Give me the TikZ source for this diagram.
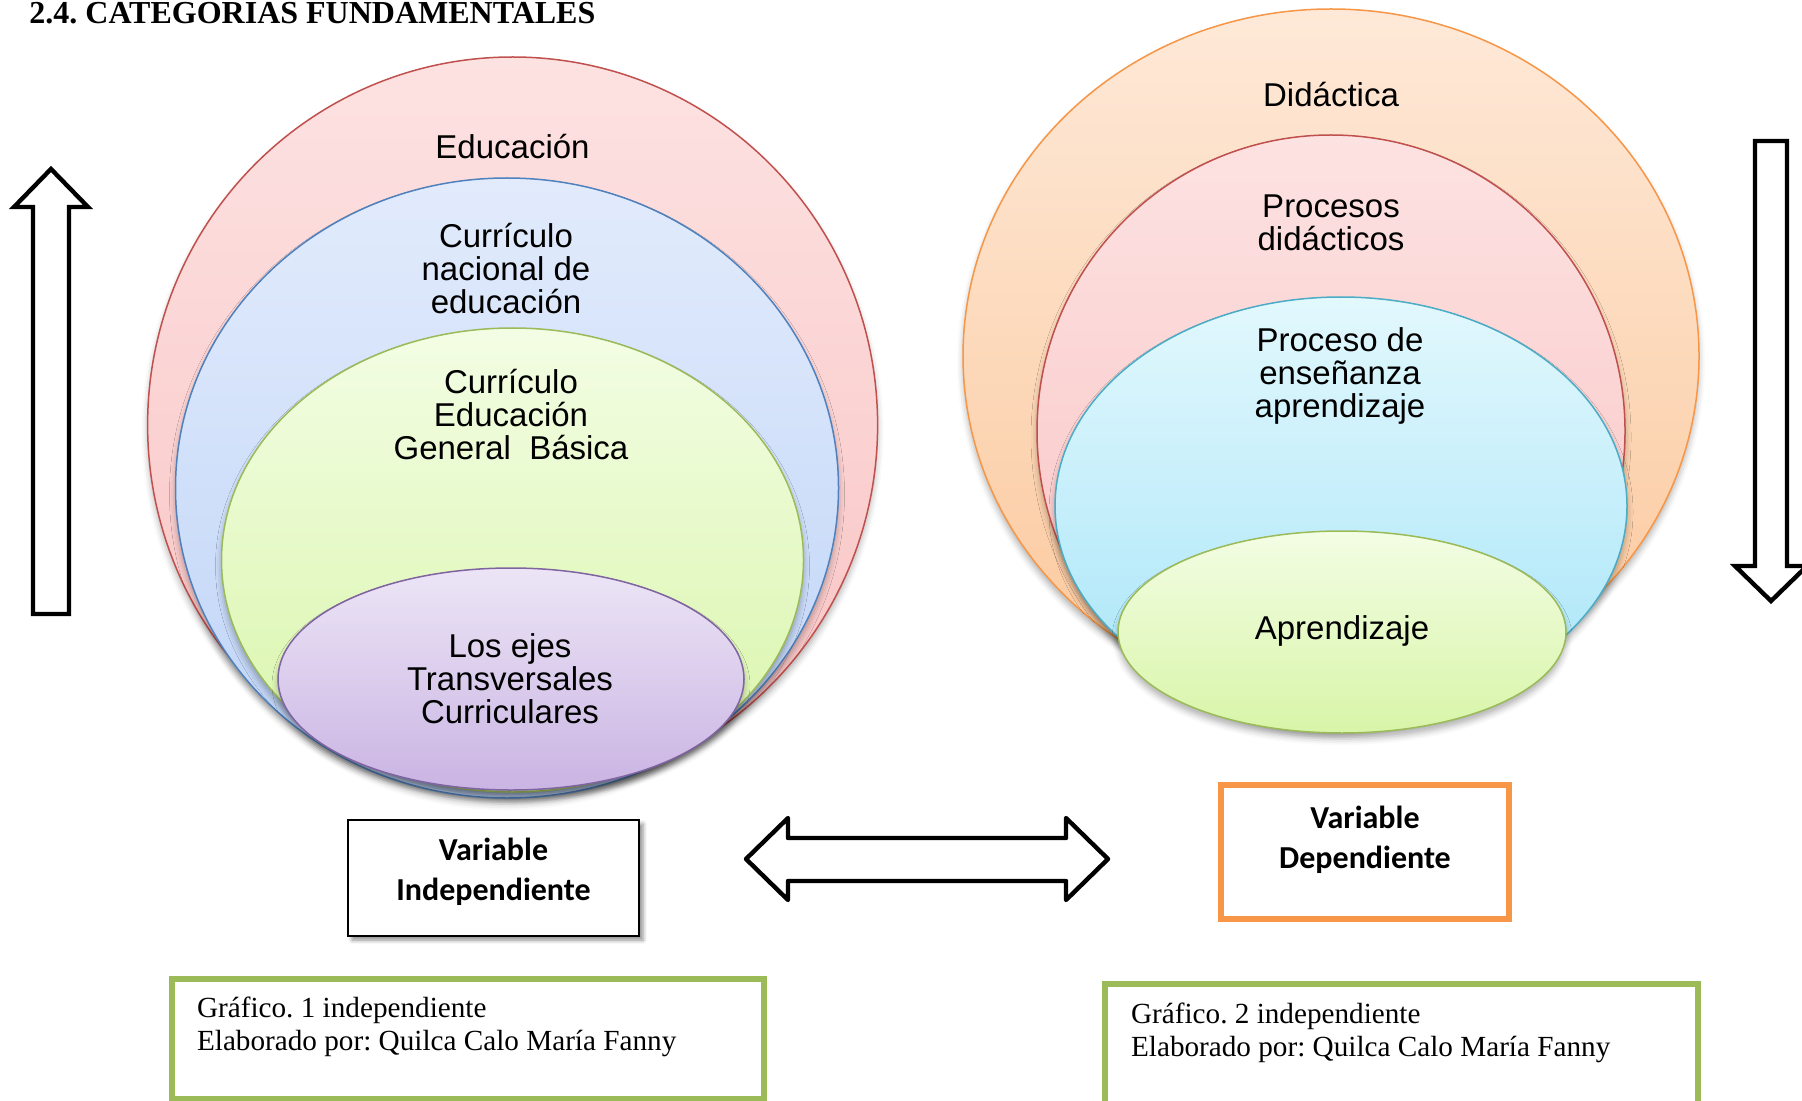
\documentclass[tikz,border=0pt]{standalone}
\usepackage{fontspec}
\setmainfont{Liberation Serif}
\newfontfamily\circleFont{Liberation Sans}
\newfontfamily\boxFont{Carlito}
\usetikzlibrary{positioning,shapes.geometric,shadows.blur}
\frenchspacing
\definecolor{redLine}{RGB}{192,80,77}
\definecolor{redTop}{RGB}{253,226,226}
\definecolor{redBottom}{RGB}{249,194,194}
\definecolor{blueLine}{RGB}{79,129,189}
\definecolor{blueTop}{RGB}{226,235,252}
\definecolor{blueBottom}{RGB}{190,212,247}
\definecolor{greenLine}{RGB}{155,187,89}
\definecolor{greenTop}{RGB}{243,253,228}
\definecolor{greenBottom}{RGB}{216,245,168}
\definecolor{purpleLine}{RGB}{128,100,162}
\definecolor{purpleTop}{RGB}{236,229,246}
\definecolor{purpleBottom}{RGB}{202,180,227}
\definecolor{orangeLine}{RGB}{247,150,70}
\definecolor{orangeTop}{RGB}{254,233,216}
\definecolor{orangeBottom}{RGB}{251,200,156}
\definecolor{cyanLine}{RGB}{75,172,198}
\definecolor{cyanTop}{RGB}{226,248,253}
\definecolor{cyanBottom}{RGB}{168,229,248}
\tikzstyle{pixels} = [x = 0.5pt, y = -0.5pt]
\tikzstyle{categoryStyle} = [ellipse, inner sep = 0, line width = .75pt, blur shadow = {shadow xshift = 0pt, shadow yshift = -3pt, shadow blur radius = 3pt, shadow opacity = 30}]
\tikzstyle{categoryTextStyle} = [font = \circleFont\fontsize{16.5}{16.5}\selectfont, align = center]
\tikzstyle{variableBox} = [draw, fill = white, inner sep = 0]
\tikzstyle{variableText} = [align = center, font = \boxFont\bfseries\fontsize{16}{20}\selectfont]
\tikzstyle{captionBox} = [draw = greenLine, line width = 3pt, fill = white, inner sep = 0]
\tikzstyle{captionText} = [anchor = west, align = left, font = \fontsize{14.6}{16.5}\selectfont]
\tikzstyle{blockArrow} = [draw = black, fill = white, line width = 2.2pt]
\newcommand{\categoryEllipse}[6]{\node [categoryStyle, draw = #2Line, top color = #2Top, bottom color = #2Bottom, minimum width = #5pt, minimum height = #6pt] (#1) at (#3, #4) {};}
\newcommand{\categoryText}[4]{\node [categoryTextStyle] (#1) at (#2, #3) {#4};}
\begin{document}
\begin{tikzpicture}[pixels]
  \useasboundingbox (0,0) rectangle (1802,1101);
  \node [anchor = base west, inner sep = 0, font = \bfseries\fontsize{16}{19}\selectfont] (title) at (29,24) {2.4. CATEGORIAS FUNDAMENTALES};

  \categoryEllipse{educacion}{red}{512.6}{425}{365}{368}
  \categoryEllipse{curriculoNacional}{blue}{507}{488}{331.5}{310}
  \categoryEllipse{curriculoBasica}{green}{512.5}{560}{291}{232}
  \categoryEllipse{ejesTransversales}{purple}{511}{679}{233}{111}
  \categoryText{educacionText}{512.5}{147}{Educación}
  \categoryText{curriculoNacionalText}{506}{269}{Currículo\\nacional de\\educación}
  \categoryText{curriculoBasicaText}{511}{415}{Currículo\\Educación\\General~ Básica}
  \categoryText{ejesTransversalesText}{510}{679}{Los ejes\\Transversales\\Curriculares}

  \categoryEllipse{didactica}{orange}{1331}{356}{368}{347}
  \categoryEllipse{procesosDidacticos}{red}{1331}{431}{294}{296}
  \categoryEllipse{procesoEnsenanza}{cyan}{1341}{506}{286}{209}
  \categoryEllipse{aprendizaje}{green}{1342}{632}{224}{101}
  \categoryText{didacticaText}{1331}{95}{Didáctica}
  \categoryText{procesosDidacticosText}{1331}{223}{Procesos\\didácticos}
  \categoryText{procesoEnsenanzaText}{1340}{376}{Proceso de\\enseñanza\\aprendizaje}
  \categoryText{aprendizajeText}{1342}{631}{Aprendizaje}

  \draw [blockArrow, line join = miter] (51,169) -- (88,207) -- (69,207) -- (69,614) -- (33,614) -- (33,207) -- (14,207) -- cycle;
  \draw [blockArrow, line join = miter] (1755,141) -- (1787,141) -- (1787,566) -- (1807,566) -- (1771,601) -- (1735,566) -- (1755,566) -- cycle;
  \draw [blockArrow, line join = round] (746,859) -- (788,818) -- (788,838) -- (1066,838) -- (1066,818) -- (1108,859) -- (1066,900) -- (1066,881) -- (788,881) -- (788,900) -- cycle;

  \node [variableBox, line width = 1.2pt, minimum width = 145.5pt, minimum height = 58pt, blur shadow = {shadow xshift = 2pt, shadow yshift = -2pt, shadow blur radius = 2pt, shadow opacity = 45}] (independiente) at (493.5,878) {};
  \node [variableText] (independienteText) at (493.5,872) {Variable\\Independiente};
  \node [variableBox, draw = orangeLine, line width = 3pt, minimum width = 144pt, minimum height = 67pt] (dependiente) at (1365,852) {};
  \node [variableText] (dependienteText) at (1365,840) {Variable\\Dependiente};

  \node [captionBox, minimum width = 296pt, minimum height = 60pt] (captionOne) at (468,1039) {};
  \node [captionText] (captionOneText) at (190,1027) {Gráfico. 1 independiente\\Elaborado por: Quilca Calo María Fanny};
  \node [captionBox, minimum width = 296.5pt, minimum height = 61pt] (captionTwo) at (1401.5,1045) {};
  \node [captionText] (captionTwoText) at (1124,1033) {Gráfico. 2 independiente\\Elaborado por: Quilca Calo María Fanny};
\end{tikzpicture}
\end{document}
